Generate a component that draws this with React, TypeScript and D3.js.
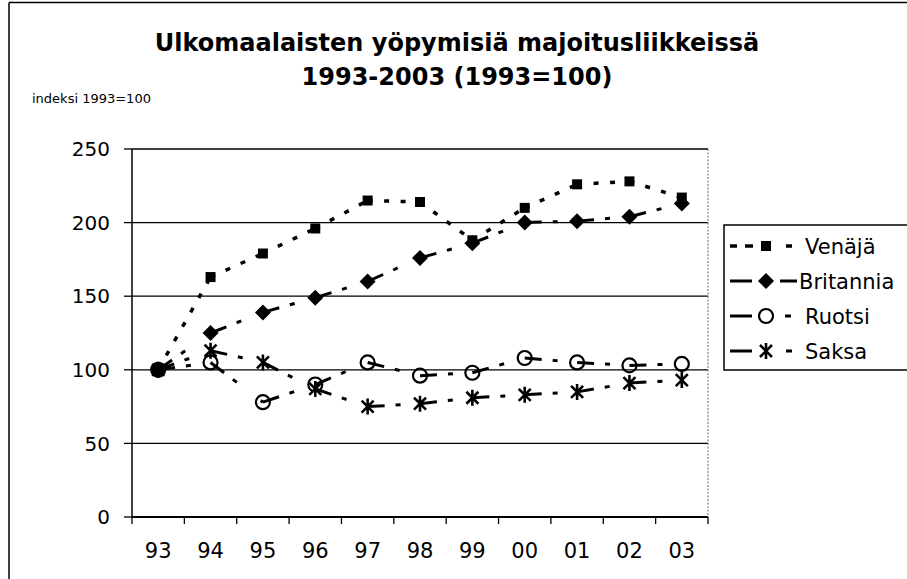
import * as d3 from "d3";

const categories = ["93", "94", "95", "96", "97", "98", "99", "00", "01", "02", "03"];
const venaja = [100, 163, 179, 196, 215, 214, 188, 210, 226, 228, 217];
const britannia = [100, 125, 139, 149, 160, 176, 186, 200, 201, 204, 213];
const ruotsi = [100, 105, 78, 90, 105, 96, 98, 108, 105, 103, 104];
const saksa = [100, 113, 105, 87, 75, 77, 81, 83, 85, 91, 93];
const yTicks = [0, 50, 100, 150, 200, 250];

const titleLines = ["Ulkomaalaisten yöpymisiä majoitusliikkeissä", "1993-2003 (1993=100)"];

type Marker = "square" | "diamond" | "circle" | "star";

const series: { name: string; values: number[]; marker: Marker; dash: string; width: number }[] = [
  { name: "Venäjä", values: venaja, marker: "square", dash: "5,11.5", width: 3.5 },
  { name: "Britannia", values: britannia, marker: "diamond", dash: "17,11,5,30", width: 3 },
  { name: "Ruotsi", values: ruotsi, marker: "circle", dash: "17,11,5,30", width: 3 },
  { name: "Saksa", values: saksa, marker: "star", dash: "17,11,5,30", width: 3 },
];

// legend sample pieces [x1, x2] around the marker
const legendPieces: Record<Marker, [number, number][]> = {
  square: [[730, 737], [745, 753], [786, 792]],
  diamond: [[730, 752], [780, 797]],
  circle: [[730, 752], [785, 791]],
  star: [[730, 752], [786, 792]],
};

const FONT = "'DejaVu Sans', sans-serif";

function MarkerShape({ type, x, y }: { type: Marker; x: number; y: number }) {
  if (type === "square") return <rect x={x - 5} y={y - 5} width={10} height={10} fill="#000" />;
  if (type === "diamond")
    return <path d={`M${x},${y - 8}L${x + 8},${y}L${x},${y + 8}L${x - 8},${y}Z`} fill="#000" />;
  if (type === "circle")
    return <circle cx={x} cy={y} r={7} fill="none" stroke="#000" strokeWidth={2.2} />;
  const s = 8;
  const d = s * 0.75;
  return (
    <path
      d={`M${x},${y - s}L${x},${y + s}M${x - d},${y - d}L${x + d},${y + d}M${x - d},${y + d}L${x + d},${y - d}`}
      stroke="#000"
      strokeWidth={2.6}
    />
  );
}

export default function App() {
  const left = 132, right = 708, top = 149, bottom = 517;
  const x = d3.scaleBand<string>().domain(categories).range([left, right]);
  const cx = (c: string) => (x(c) ?? 0) + x.bandwidth() / 2;
  const y = d3.scaleLinear().domain([0, 250]).range([bottom, top]);
  const line = d3.line<[number, number]>().x((d) => d[0]).y((d) => d[1]);
  const tickEdges = [...categories.map((c) => x(c) ?? 0), right];

  return (
    <svg
      width={907}
      height={579}
      style={{ position: "absolute", left: 0, top: 0, background: "#fff" }}
      fontFamily={FONT}
    >
      {/* chart frame */}
      <line x1={9} y1={2.5} x2={907} y2={2.5} stroke="#000" strokeWidth={1.5} />
      <line x1={9} y1={2.5} x2={9} y2={579} stroke="#000" strokeWidth={1.5} />

      {titleLines.map((t, i) => (
        <text key={t} x={457} y={51 + i * 34} textAnchor="middle" fontSize={24} fontWeight="bold">
          {t}
        </text>
      ))}
      <text x={32} y={103} fontSize={13}>
        indeksi 1993=100
      </text>

      {/* gridlines and y axis */}
      {yTicks.map((t) => (
        <g key={t}>
          {t > 0 && <line x1={left} x2={right} y1={y(t)} y2={y(t)} stroke="#000" strokeWidth={1.3} />}
          <line x1={left - 8} x2={left} y1={y(t)} y2={y(t)} stroke="#000" strokeWidth={1.3} />
          <text x={110} y={y(t)} dy="0.36em" textAnchor="end" fontSize={20}>
            {t}
          </text>
        </g>
      ))}
      <line x1={right} x2={right} y1={top} y2={bottom} stroke="#666" strokeWidth={1} strokeDasharray="2,1.5" />
      <line x1={left} x2={left} y1={top} y2={bottom} stroke="#000" strokeWidth={1.5} />
      <line x1={left} x2={right} y1={bottom} y2={bottom} stroke="#000" strokeWidth={2} />
      {tickEdges.map((e, i) => (
        <line key={i} x1={e} x2={e} y1={bottom} y2={bottom + 7} stroke="#000" strokeWidth={1.3} />
      ))}
      {categories.map((c) => (
        <text key={c} x={cx(c)} y={558} textAnchor="middle" fontSize={21}>
          {c}
        </text>
      ))}

      {/* series: each segment restarts its dash pattern, as in the original */}
      {series.map((s) => {
        const pts: [number, number][] = s.values.map((v, i) => [cx(categories[i]), y(v)]);
        return (
          <g key={s.name}>
            {d3.pairs(pts).map(([a, b], i) => (
              <path
                key={i}
                d={line([a, b]) ?? ""}
                fill="none"
                stroke="#000"
                strokeWidth={s.width}
                strokeDasharray={s.dash}
              />
            ))}
            {pts.map((p, i) => (
              <MarkerShape key={i} type={s.marker} x={p[0]} y={p[1]} />
            ))}
          </g>
        );
      })}

      {/* legend */}
      <rect x={724} y={225} width={190} height={145} fill="#fff" stroke="#000" strokeWidth={1.5} />
      {series.map((s, i) => {
        const ly = 246 + i * 35;
        return (
          <g key={s.name}>
            {legendPieces[s.marker].map(([a, b], j) => (
              <line key={j} x1={a} x2={b} y1={ly} y2={ly} stroke="#000" strokeWidth={s.width} />
            ))}
            <MarkerShape type={s.marker} x={766} y={ly} />
            <text x={i === 1 ? 799 : 805} y={ly} dy="0.36em" fontSize={21}>
              {s.name}
            </text>
          </g>
        );
      })}
    </svg>
  );
}
